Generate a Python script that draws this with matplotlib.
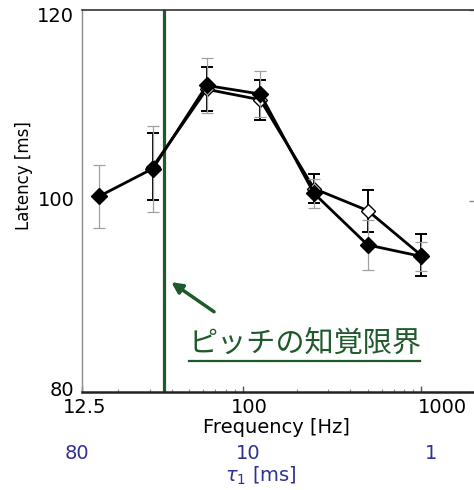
import matplotlib
matplotlib.use("Agg")
import matplotlib.pyplot as plt
import matplotlib.transforms as mtransforms
from matplotlib.lines import Line2D
import numpy as np

# ---------------- data ----------------
freq = [15.625, 31.25, 62.5, 125, 250, 500, 1000]          # Hz
filled_vals = [100.5, 103.4, 112.1, 111.2, 100.8, 95.4, 94.2]
filled_err = [3.3, 4.5, 2.9, 2.4, 1.5, 2.6, 1.5]
open_freq = [31.25, 62.5, 125, 250, 500, 1000]
open_vals = [103.6, 111.7, 110.6, 101.3, 99.0, 94.3]
open_err = [3.5, 2.3, 2.1, 1.5, 2.2, 2.2]

pitch_limit_hz = 36.0
freq_ticks = [12.5, 100, 1000]
freq_ticklabels = ["12.5", "100", "1000"]
tau_ticks = [80, 10, 1]
tau_ticklabels = ["80", "10", "1"]
y_ticks = [80, 100, 120]

annot_text = "ピッチの知覚限界"

GREEN = "#1f5a2b"
BLUE = "#2e3192"

# ---------------- figure ----------------
W, H, DPI = 474, 490, 100
fig = plt.figure(figsize=(W / DPI, H / DPI), dpi=DPI)
ax = fig.add_axes([82 / W, (H - 392) / H, (475 - 82) / W, (392 - 10) / H])

ax.set_xscale("log")
ax.set_xlim(12.5, 2000)
ax.set_ylim(80, 120)

# pitch limit line
ax.axvline(pitch_limit_hz, color=GREEN, lw=2.3, zorder=2)

# open series (drawn first, underneath)
ax.errorbar(open_freq, open_vals, yerr=open_err, fmt="none", ecolor="black",
            elinewidth=1.4, capsize=4, capthick=1.4, zorder=3)
ax.plot(open_freq, open_vals, color="black", lw=2.0, marker="D", ms=7.5,
        mfc="white", mec="black", mew=1.0, zorder=4)

# filled series
ax.errorbar(freq, filled_vals, yerr=filled_err, fmt="none", ecolor="#a0a0a0",
            elinewidth=0.9, capsize=4, capthick=0.9, zorder=5)
ax.plot(freq, filled_vals, color="black", lw=2.0, marker="D", ms=8.5,
        mfc="black", mec="black", zorder=6)

# arrow + annotation text
ax.annotate("", xy=(39.6, 91.5), xytext=(68.8, 88.4),
            arrowprops=dict(arrowstyle="-|>", color=GREEN, lw=2.5,
                            mutation_scale=16, shrinkA=0, shrinkB=0),
            zorder=7)
txt = ax.text(222, 84.9, annot_text, color=GREEN, fontsize=21,
              family=["Noto Sans CJK JP", "DejaVu Sans"],
              ha="center", va="center", zorder=7)

# ---------------- axes styling ----------------
for s in ["left", "right"]:
    ax.spines[s].set_color("#8a8a8a")
    ax.spines[s].set_linewidth(1.0)
ax.spines["top"].set_color("#333333")
ax.spines["top"].set_linewidth(1.2)
ax.spines["bottom"].set_color("#222222")
ax.spines["bottom"].set_linewidth(1.8)

ax.set_yticks(y_ticks)
ax.set_yticklabels([str(v) for v in y_ticks])
ax.tick_params(axis="y", which="both", left=False, right=True, direction="in",
               length=4.5, width=1, color="#8a8a8a", labelsize=14, pad=5.5)
# small vertical offsets of y tick labels as in the reference
y_offsets_px = [3, 2, -5]
for lab, dy in zip(ax.get_yticklabels(), y_offsets_px):
    lab.set_transform(lab.get_transform() +
                      mtransforms.ScaledTranslation(0, dy / DPI, fig.dpi_scale_trans))

ax.set_xticks(freq_ticks)
ax.set_xticklabels(freq_ticklabels)
ax.tick_params(axis="x", which="major", bottom=True, top=False, direction="in",
               length=4, width=1, color="#555555", labelsize=14, pad=4.5)
ax.tick_params(axis="x", which="minor", bottom=True, top=False, direction="in",
               length=2.5, width=0.8, color="#888888")
ax.xaxis.set_minor_formatter(matplotlib.ticker.NullFormatter())

# slight horizontal offsets of x tick labels as in the reference
x_offsets_px = [3, 6, 21]
for lab, dx in zip(ax.get_xticklabels(), x_offsets_px):
    lab.set_transform(lab.get_transform() +
                      mtransforms.ScaledTranslation(dx / DPI, 0, fig.dpi_scale_trans))

ax.set_xlabel("Frequency [Hz]", fontsize=14)
ax.xaxis.set_label_coords((276 - 82) / 393, -(418 - 392) / 382)
ax.set_ylabel("Latency [ms]", fontsize=12)
ax.yaxis.set_label_coords(-(82 - 33) / 393, (392 - 176) / 382)

# secondary tau axis
sec = ax.secondary_xaxis(-(440 - 392) / 382,
                         functions=(lambda f: 1000.0 / np.asarray(f),
                                    lambda t: 1000.0 / np.asarray(t)))
sec.set_xticks(tau_ticks)
sec.set_xticklabels(tau_ticklabels)
sec.xaxis.set_minor_locator(matplotlib.ticker.NullLocator())
sec.tick_params(axis="x", which="both", length=0, labelsize=14, pad=3,
                labelcolor=BLUE)
sec.spines["bottom"].set_visible(False)
tau_offsets_px = [-5, 5, 10]
for lab, dx in zip(sec.get_xticklabels(), tau_offsets_px):
    lab.set_transform(lab.get_transform() +
                      mtransforms.ScaledTranslation(dx / DPI, 0, fig.dpi_scale_trans))
sec.set_xlabel(r"$\tau_1$ [ms]", fontsize=14, color=BLUE)
sec.xaxis.set_label_coords((261 - 82) / 393, -(465 - 392) / 382,
                           transform=ax.transAxes)

# underline for annotation text
fig.canvas.draw()
bb = txt.get_window_extent()
uy = bb.y0 - 1
fig.add_artist(Line2D([bb.x0 + 1, bb.x1 - 1], [uy, uy], transform=None,
                      color=GREEN, lw=1.6))

fig.savefig("out.png", dpi=DPI)
